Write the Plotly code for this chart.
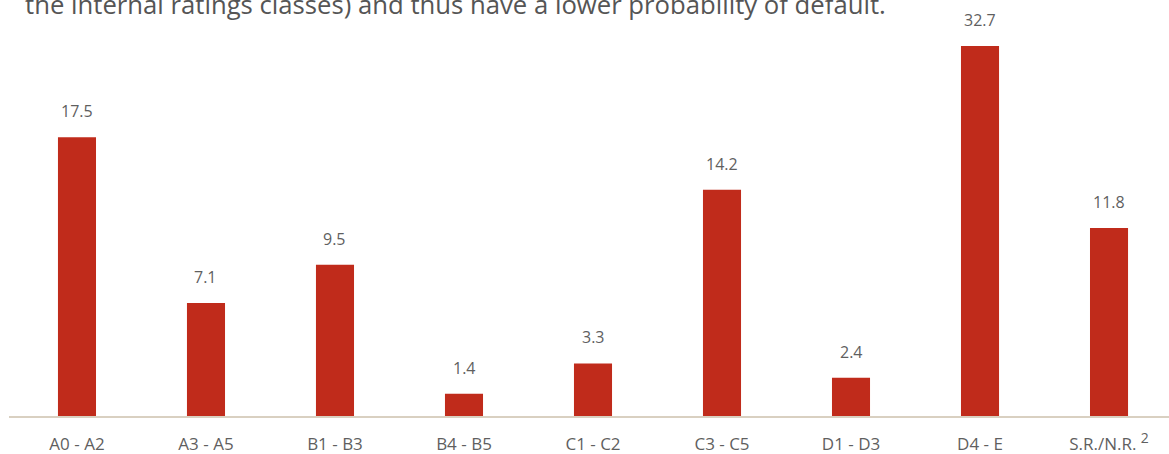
import plotly.graph_objects as go

categories = ["A0 - A2", "A3 - A5", "B1 - B3", "B4 - B5", "C1 - C2", "C3 - C5", "D1 - D3", "D4 - E",
              "S.R./N.R. <sup><span style='font-size:14px'>2</span></sup>"]
values = [17.5, 7.1, 9.5, 1.4, 3.3, 14.2, 2.4, 32.7, 11.8]
title_text = "the internal ratings classes) and thus have a lower probability of default."

Y_MAX = 23.23
BAR_COLOR = "#C02B1B"
TEXT_COLOR = "#5F5F5F"
FONT = "Open Sans"

fig = go.Figure()
fig.add_trace(go.Bar(
    x=list(range(len(categories))),
    y=values,
    width=0.295,
    marker=dict(color=BAR_COLOR, line=dict(width=0)),
    hoverinfo="skip",
))

for i, v in enumerate(values):
    fig.add_annotation(
        x=i, y=min(v, Y_MAX), xref="x", yref="y",
        text=f"{v:.1f}", showarrow=False,
        yanchor="middle", yshift=26,
        font=dict(family=FONT, size=16, color=TEXT_COLOR),
    )

fig.add_annotation(
    x=0, y=1, xref="paper", yref="paper", xanchor="left", yanchor="middle",
    xshift=14, yshift=42, text=title_text, showarrow=False,
    font=dict(family=FONT, size=25.7, color="#555555"),
)

fig.update_layout(
    width=1169, height=454,
    margin=dict(l=9, r=0, t=46, b=38),
    plot_bgcolor="white", paper_bgcolor="white",
    showlegend=False,
    xaxis=dict(
        tickmode="array", tickvals=list(range(len(categories))), ticktext=categories,
        range=[-0.527, 8.465], showgrid=False, zeroline=False,
        showline=True, linecolor="#D9D0C1", linewidth=2,
        ticks="", ticklabelstandoff=12,
        tickfont=dict(family=FONT, size=17, color=TEXT_COLOR),
        fixedrange=True,
    ),
    yaxis=dict(range=[0, Y_MAX], visible=False, showgrid=False, zeroline=False, fixedrange=True),
)

fig.write_html("out.html", config={"displayModeBar": False})
